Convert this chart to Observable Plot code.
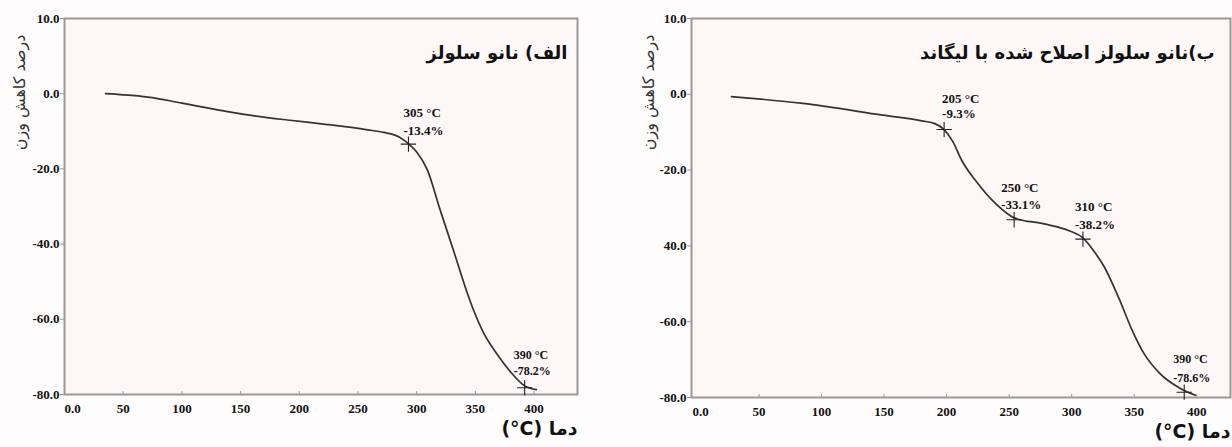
<!DOCTYPE html>
<html>
<head>
<meta charset="utf-8">
<script src="https://cdn.jsdelivr.net/npm/d3@7"></script>
<script src="https://cdn.jsdelivr.net/npm/@observablehq/plot@0.6"></script>
<style>
  html, body { margin: 0; padding: 0; background: #fefcfc; }
  #wrap { position: relative; width: 1232px; height: 447px; overflow: hidden; }
  #wrap svg { position: absolute; top: 0; }
  #wrap svg g[aria-label="x-axis tick label"],
  #wrap svg g[aria-label="y-axis tick label"] { font-weight: bold; }
</style>
</head>
<body>
<div id="wrap"></div>
<script>
// ---------- data ----------
// Panel A (nano cellulose)
const tempA = [35, 50, 71, 100, 153, 190, 224, 258, 272, 285, 293, 300, 309, 320, 332, 342, 349, 356, 369, 380, 392, 402];
const massA = [0, -0.3, -0.9, -2.5, -5.5, -7.0, -8.2, -9.6, -10.3, -11.5, -13.3, -15.5, -20.2, -30.9, -42.3, -52, -58, -63, -69.5, -74, -77.7, -78.7];
const markTempA = [293, 392];
const markMassA = [-13.4, -78.2];
const markTempLabelA = ["305 °C", "390 °C"];
const markPctLabelA = ["-13.4%", "-78.2%"];

// Panel B (ligand-modified nano cellulose)
const tempB = [28, 85, 149, 180, 191, 198, 205, 212, 223, 239, 254, 278, 298, 309, 318, 326, 338, 348, 358, 370, 388, 399];
const massB = [-0.6, -2.4, -5.5, -7.0, -7.8, -9.3, -12.5, -17.4, -22.7, -28.8, -32.6, -34.2, -36.0, -37.9, -41.5, -45.5, -54, -62, -68.5, -73.5, -77.8, -79.4];
const markTempB = [198, 254, 309, 390];
const markMassB = [-9.3, -33.1, -38.2, -78.6];
const markTempLabelB = ["205 °C", "250 °C", "310 °C", "390 °C"];
const markPctLabelB = ["-9.3%", "-33.1%", "-38.2%", "-78.6%"];

// Axis ticks and labels
const xTicks = [0, 50, 100, 150, 200, 250, 300, 350, 400];
const xTickLabels = ["0.0", "50", "100", "150", "200", "250", "300", "350", "400"];
const yTicks = [20, 0, -20, -40, -60, -80];
const yTickLabelsA = ["10.0", "0.0", "-20.0", "-40.0", "-60.0", "-80.0"];
const yTickLabelsB = ["10.0", "0.0", "-20.0", "40.0", "-60.0", "-80.0"];

const titleA = "الف) نانو سلولز";
const titleB = "ب)نانو سلولز اصلاح شده با لیگاند";
const yLabel = "درصد کاهش وزن";
const xLabel = "دما (°C)";

// ---------- drawing ----------
const AXIS = "#9c9898";
const INK = "#111";
const CURVE = "#333";
const PERSIAN = "'DejaVu Sans', 'Noto Sans', sans-serif";
// right-to-left isolate, keeping "°C" as a left-to-right run
const rtl = s => "\u2067" + s.replace("°C", "\u200E°C") + "\u2069";

function panel(cfg) {
  const xFmt = new Map(xTicks.map((d, i) => [d, xTickLabels[i]]));
  const yFmt = new Map(yTicks.map((d, i) => [d, cfg.yLabels[i]]));
  const annot = [];
  cfg.mT.forEach((t, i) => {
    const o = cfg.offsets[i];
    annot.push(Plot.text([i], {x: j => cfg.mT[j], y: j => cfg.mM[j], text: j => cfg.lT[j],
      dx: o[0], dy: o[1], textAnchor: "start", fontSize: o[3], fontWeight: "bold", fill: INK}));
    annot.push(Plot.text([i], {x: j => cfg.mT[j], y: j => cfg.mM[j], text: j => cfg.lP[j],
      dx: o[0], dy: o[2], textAnchor: "start", fontSize: o[3], fontWeight: "bold", fill: INK}));
  });
  return Plot.plot({
    width: cfg.width, height: 447,
    marginLeft: cfg.ml, marginRight: cfg.mr, marginTop: 18, marginBottom: cfg.mb,
    x: {domain: cfg.xd},
    y: {domain: [-80, 20]},
    style: {background: "transparent", fontFamily: "'Liberation Serif', serif", color: INK},
    marks: [
      Plot.frame({fill: "#fdf7f7", stroke: "none"}),
      Plot.frame({stroke: AXIS, strokeWidth: 2}),
      Plot.axisY(yTicks, {tickFormat: d => yFmt.get(d), tickSize: 4, tickPadding: 1, stroke: AXIS,
        fontSize: 13, fontWeight: "bold", label: null}),
      Plot.axisX([xTicks[0]], {tickFormat: d => xFmt.get(d), tickSize: 0, tickPadding: 9, dx: cfg.zeroDx,
        fontSize: 13, fontWeight: "bold", label: null}),
      Plot.axisX(xTicks.slice(1), {tickFormat: d => xFmt.get(d), tickSize: -3, tickPadding: 12, stroke: AXIS,
        fontSize: 13, fontWeight: "bold", label: null}),
      Plot.line(cfg.tx, {x: cfg.tx, y: cfg.ty, curve: "monotone-x", stroke: CURVE, strokeWidth: 1.7}),
      Plot.dot(cfg.mT, {x: cfg.mT, y: cfg.mM, symbol: "plus", r: 5, stroke: "#222", strokeWidth: 1.1}),
      ...annot,
      Plot.text([cfg.title], {frameAnchor: "top-right", dx: cfg.titleDx, dy: 28, textAnchor: "end",
        fontFamily: PERSIAN, fontSize: 18, fontWeight: "bold", fill: INK}),
      Plot.text([yLabel], {frameAnchor: "top-left", rotate: -90, dx: cfg.ylDx, dy: 74, textAnchor: "middle",
        fontFamily: PERSIAN, fontSize: 16, fill: "#333"}),
      Plot.text([xLabel], {frameAnchor: "bottom-right", dy: 40, textAnchor: "end", text: d => rtl(d),
        fontFamily: PERSIAN, fontSize: 19, fontWeight: "bold", fill: INK})
    ]
  });
}

const left = panel({
  width: 616, ml: 64, mr: 39, mb: 53, xd: [0, 437],
  tx: tempA, ty: massA, mT: markTempA, mM: markMassA, lT: markTempLabelA, lP: markPctLabelA,
  yLabels: yTickLabelsA, title: titleA, titleDx: -10, ylDx: -51, zeroDx: 8,
  offsets: [[-5, -31, -13, 13], [-11, -33, -17, 12]]
});
const right = panel({
  width: 616, ml: 75, mr: 2, mb: 50, xd: [-4, 427],
  tx: tempB, ty: massB, mT: markTempB, mM: markMassB, lT: markTempLabelB, lP: markPctLabelB,
  yLabels: yTickLabelsB, title: titleB, titleDx: -16, ylDx: -49, zeroDx: 4,
  offsets: [[-2, -31, -16, 13], [-13, -32, -15, 13], [-8, -32, -14, 13], [-11, -33, -14, 12]]
});
left.style.left = "0px";
right.style.left = "616px";
const wrap = document.getElementById("wrap");
wrap.appendChild(left);
wrap.appendChild(right);
</script>
</body>
</html>
